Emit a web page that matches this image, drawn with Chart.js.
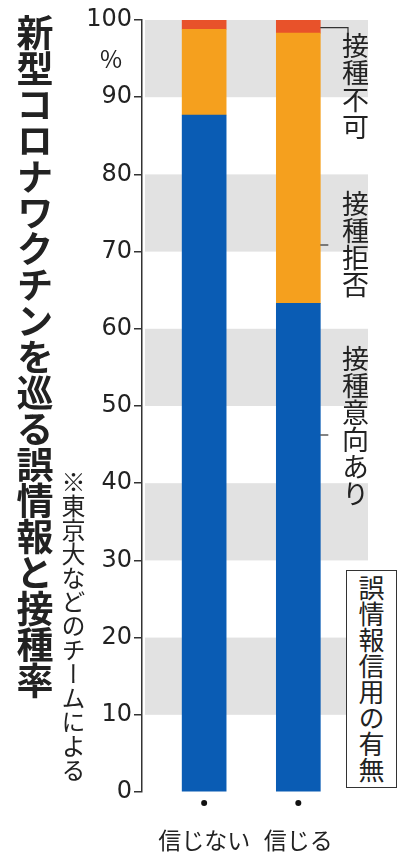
<!DOCTYPE html>
<html><head><meta charset="utf-8">
<script src="https://cdn.jsdelivr.net/npm/chart.js@4"></script>
<style>
body{margin:0;background:#fff;font-family:"Noto Sans CJK JP",sans-serif;}
#wrap{position:relative;width:410px;height:860px;}
canvas{position:absolute;left:0;top:0;}
.v{position:absolute;writing-mode:vertical-rl;color:#222;white-space:nowrap;}
</style></head><body>
<div id="wrap">
<canvas id="c" width="410" height="860"></canvas>
<div class="v" style="left:8px;top:14px;font-size:37px;font-weight:bold;letter-spacing:-1px;">新型コロナワクチンを巡る誤情報と接種率</div>
<div class="v" style="left:56px;top:470px;font-size:24px;">※東京大などのチームによる</div>
<div style="position:absolute;left:100px;top:40px;font-size:24px;color:#222;">%</div>
<div class="v" style="left:336px;top:32px;font-size:27px;">接種不可</div>
<div class="v" style="left:336px;top:190px;font-size:27px;">接種拒否</div>
<div class="v" style="left:336px;top:345px;font-size:27px;">接種意向あり</div>
<div class="v" style="left:346px;top:570px;font-size:26px;border:1.5px solid #333;padding:4px 6px;background:#fff;">誤情報信用の有無</div>
</div>
<script>
// --- data ---
const categories = ['信じない', '信じる'];
const intend = [87.7, 63.3];
const refuse = [11.1, 35.0];
const unable = [1.2, 1.7];
const yTicks = [0, 10, 20, 30, 40, 50, 60, 70, 80, 90, 100];

const toPts = arr => arr.map((v, i) => ({ x: i, y: v }));

const bands = {
  id: 'bands',
  beforeDatasetsDraw(chart) {
    const { ctx, chartArea, scales: { y } } = chart;
    ctx.save();
    ctx.fillStyle = '#e2e2e2';
    for (let v = 10; v < 100; v += 20) {
      const top = y.getPixelForValue(v + 10), bot = y.getPixelForValue(v);
      ctx.fillRect(chartArea.left + 3, top, chartArea.right - chartArea.left - 3, bot - top);
    }
    ctx.restore();
  },
  afterDraw(chart) {
    const { ctx, scales: { x, y } } = chart;
    ctx.save();
    ctx.fillStyle = '#111';
    categories.forEach((c, i) => {
      ctx.beginPath();
      ctx.arc(x.getPixelForValue(i), y.getPixelForValue(0) + 11, 3, 0, Math.PI * 2);
      ctx.fill();
    });
    // leader lines to the right-hand labels
    ctx.strokeStyle = '#333';
    ctx.lineWidth = 1.2;
    const meta = chart.getDatasetMeta(2).data[1];
    const xr = meta.x + meta.width / 2;
    ctx.beginPath();
    ctx.moveTo(xr, y.getPixelForValue(99));
    ctx.lineTo(348, y.getPixelForValue(99));
    ctx.lineTo(348, y.getPixelForValue(99) + 8);
    ctx.stroke();
    [245, 435].forEach(py => {
      ctx.beginPath();
      ctx.moveTo(xr, py);
      ctx.lineTo(xr + 8, py);
      ctx.stroke();
    });
    ctx.restore();
  }
};

new Chart(document.getElementById('c'), {
  type: 'bar',
  data: {
    datasets: [
      { data: toPts(intend), backgroundColor: '#0a5cb4' },
      { data: toPts(refuse), backgroundColor: '#f5a01e' },
      { data: toPts(unable), backgroundColor: '#e8522a' }
    ]
  },
  options: {
    responsive: false,
    animation: false,
    layout: { padding: { top: 20, right: 42, left: 0, bottom: 0 } },
    plugins: { legend: { display: false }, tooltip: { enabled: false } },
    datasets: { bar: { barThickness: 44 } },
    scales: {
      x: {
        type: 'linear',
        stacked: true,
        offset: false,
        min: -0.66, max: 1.74,
        afterBuildTicks: s => { s.ticks = [{ value: 0 }, { value: 1 }]; },
        grid: { display: false },
        border: { display: false },
        afterFit: s => { s.height = 68; },
        ticks: {
          color: '#222', padding: 26, font: { size: 23, family: 'Noto Sans CJK JP' },
          callback: v => categories[v]
        }
      },
      y: {
        stacked: true,
        min: 0, max: 100,
        afterFit: s => { s.width = 142; },
        afterBuildTicks: s => { s.ticks = yTicks.map(v => ({ value: v })); },
        border: { display: true, color: '#333', width: 1.5 },
        grid: { drawOnChartArea: false, color: '#333', tickLength: 8, lineWidth: 1.5 },
        ticks: { color: '#222', padding: 2, font: { size: 24, family: 'DejaVu Sans' } }
      }
    }
  },
  plugins: [bands]
});
</script>
</body></html>
